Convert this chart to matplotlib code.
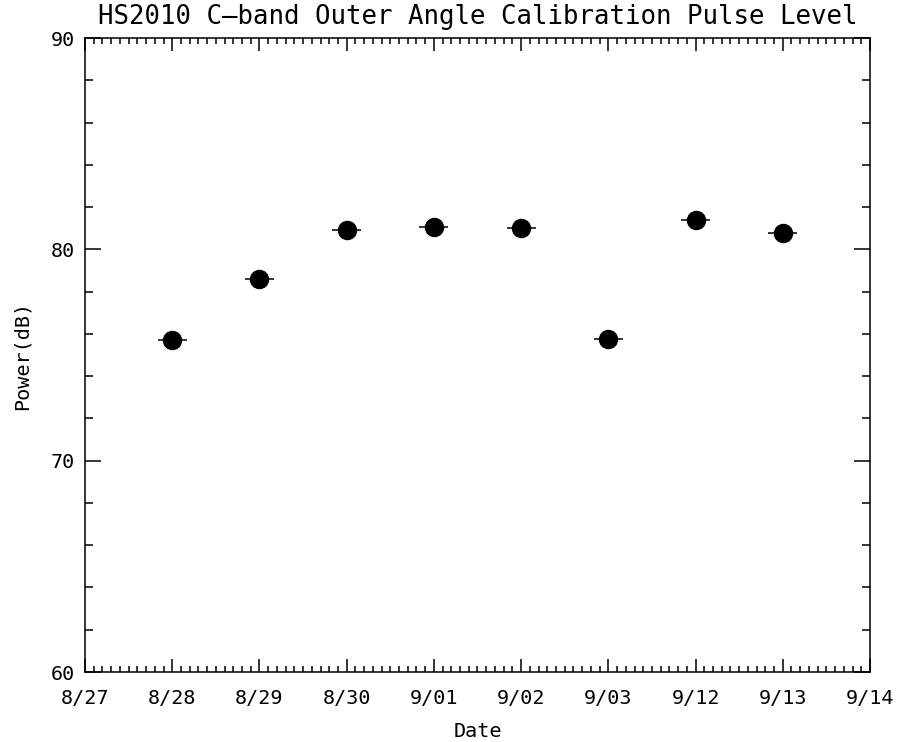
import matplotlib
matplotlib.use('Agg')
import matplotlib.pyplot as plt
from matplotlib.ticker import MultipleLocator, AutoMinorLocator

plt.rcParams['font.family'] = 'DejaVu Sans Mono'

# axis dates (one slot per pass) and the measured pulse levels
tick_dates = ['8/27', '8/28', '8/29', '8/30', '9/01', '9/02', '9/03', '9/12', '9/13', '9/14']
obs_dates = ['8/28', '8/29', '8/30', '9/01', '9/02', '9/03', '9/12', '9/13']
power_db = [75.7, 78.6, 80.9, 81.05, 81.0, 75.75, 81.4, 80.75]
date_err = [0.165, 0.165, 0.165, 0.165, 0.165, 0.165, 0.165, 0.165]

xpos = [tick_dates.index(d) for d in obs_dates]

fig = plt.figure(figsize=(9.02, 7.42), dpi=100)
ax = fig.add_axes([85/902, 70/742, 785/902, 634/742])

ax.errorbar(xpos, power_db, xerr=date_err, fmt='o', color='black',
            markersize=13, elinewidth=1.1, capsize=0)

ax.set_xlim(0, len(tick_dates) - 1)
ax.set_ylim(60, 90)
ax.set_xticks(range(len(tick_dates)))
ax.set_xticklabels(tick_dates)
ax.xaxis.set_minor_locator(AutoMinorLocator(10))
ax.yaxis.set_major_locator(MultipleLocator(10))
ax.yaxis.set_minor_locator(MultipleLocator(2))

ax.tick_params(which='both', direction='in', top=True, right=True,
               width=1.1, labelsize=14.5, colors='black')
ax.tick_params(axis='x', which='major', length=9.1, pad=12.5)
ax.tick_params(axis='x', which='minor', length=4.6)
ax.tick_params(axis='y', which='major', length=11.3, pad=7)
ax.tick_params(axis='y', which='minor', length=5.6)
for s in ax.spines.values():
    s.set_linewidth(1.1)

ax.set_title('HS2010 C\u2014band Outer Angle Calibration Pulse Level', fontsize=18.5, pad=10)
ax.set_xlabel('Date', fontsize=14.5, labelpad=10)
ax.set_ylabel('Power(dB)', fontsize=14.5, labelpad=14)

fig.savefig('out.png', dpi=100)
